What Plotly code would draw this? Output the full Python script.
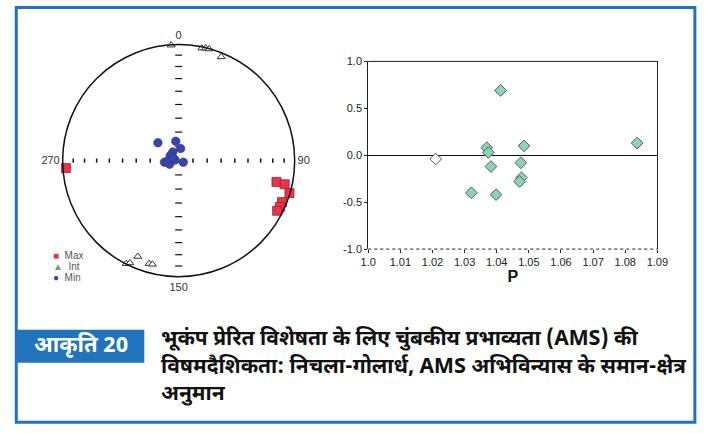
import numpy as np
import plotly.graph_objects as go

W, H = 719, 433

# Principal susceptibility axes (declination, inclination in degrees)
max_dec = [266.2, 102.3, 102.6, 106.4, 111.9, 114.6, 117.0]
max_inc = [2.9, 14.8, 7.1, 0.5, 4.5, 4.6, 5.3]
int_dec = [356.3, 11.6, 13.5, 15.3, 22.3, 207.0, 205.5, 203.1, 196.0, 194.2]
int_inc = [0.3, 1.2, 0.3, 0.3, 3.8, 0.3, 2.5, 11.1, 8.4, 8.6]
min_dec = [310.7, 351.5, 9.2, 326.3, 300.0, 263.5, 248.6, 280.0, 109.7, 268.0, 296.6]
min_inc = [70.8, 76.3, 81.5, 82.7, 83.2, 80.0, 83.2, 87.5, 86.6, 82.3, 85.5]

# Inclination graduations along the N-S / E-W diameters
tick_inc = [80, 70, 60, 50, 40, 30, 20, 10]

# Shape parameter T versus corrected anisotropy degree P
p_vals = [1.0321, 1.0369, 1.0374, 1.0382, 1.0398, 1.0412, 1.0475, 1.0485, 1.0477, 1.0471, 1.0837]
t_vals = [-0.40, 0.08, 0.03, -0.12, -0.42, 0.69, -0.08, 0.10, -0.24, -0.28, 0.13]
p_open = [1.0210]
t_open = [-0.04]

p_ticks = [1.0, 1.01, 1.02, 1.03, 1.04, 1.05, 1.06, 1.07, 1.08, 1.09]
p_ticktext = ["1.0", "1.01", "1.02", "1.03", "1.04", "1.05", "1.06", "1.07", "1.08", "1.09"]
t_ticks = [-1.0, -0.5, 0.0, 0.5, 1.0]
t_ticktext = ["-1.0", "-0.5", "0.0", "0.5", "1.0"]

dir_vals = [0, 90, 180, 270]
dir_text = ["0", "90", "150", "270"]

legend_names = ["Max", "Int", "Min"]
legend_glyphs = ["■", "▲", "●"]
legend_colors = ["#e8334a", "#6f9a78", "#3b44a8"]

caption_tag = "आकृति 20"
caption_lines = [
    "भूकंप प्रेरित विशेषता के लिए चुंबकीय प्रभाव्यता (AMS) की",
    "विषमदैशिकता: निचला-गोलार्ध, AMS अभिविन्यास के समान-क्षेत्र",
    "अनुमान",
]


def equal_area(inc):
    """Lower-hemisphere Schmidt radius (1 at the primitive circle)."""
    inc = np.asarray(inc, dtype=float)
    return np.sqrt(2.0) * np.sin(np.radians(90.0 - inc) / 2.0)


def px(x):
    return x / W


def py(y):
    return 1 - y / H


fig = go.Figure()

# graduation marks on the diameters
r_t = equal_area(tick_inc)
fig.add_trace(go.Scatterpolar(
    r=np.concatenate([r_t, r_t]), theta=[0] * len(r_t) + [180] * len(r_t),
    mode="markers", subplot="polar", showlegend=False, hoverinfo="skip",
    marker=dict(symbol="line-ew", size=5, line=dict(color="#111", width=1.2)),
))
fig.add_trace(go.Scatterpolar(
    r=np.concatenate([r_t, r_t]), theta=[90] * len(r_t) + [270] * len(r_t),
    mode="markers", subplot="polar", showlegend=False, hoverinfo="skip",
    marker=dict(symbol="line-ns", size=3, line=dict(color="#111", width=1.5)),
))

# susceptibility axes
fig.add_trace(go.Scatterpolar(
    r=equal_area(int_inc), theta=int_dec, mode="markers", subplot="polar",
    showlegend=False, cliponaxis=False,
    marker=dict(symbol="triangle-up", size=7, color="white",
                line=dict(color="#333", width=1)),
))
fig.add_trace(go.Scatterpolar(
    r=equal_area(max_inc), theta=max_dec, mode="markers", subplot="polar",
    showlegend=False, cliponaxis=False,
    marker=dict(symbol="square", size=9, color="#e8334a",
                line=dict(color="#9a1f2c", width=0.8)),
))
fig.add_trace(go.Scatterpolar(
    r=equal_area(min_inc), theta=min_dec, mode="markers", subplot="polar",
    showlegend=False, cliponaxis=False,
    marker=dict(symbol="circle", size=8.5, color="#3b44a8",
                line=dict(color="#2a3290", width=0.6)),
))

# T-P diagram
fig.add_trace(go.Scatter(
    x=p_open, y=t_open, mode="markers", showlegend=False,
    marker=dict(symbol="diamond", size=9, color="white",
                line=dict(color="#555", width=1)),
))
fig.add_trace(go.Scatter(
    x=p_vals, y=t_vals, mode="markers", showlegend=False,
    marker=dict(symbol="diamond", size=9, color="#8fd3b6",
                line=dict(color="#4f5f58", width=1)),
))

fig.update_layout(
    width=W, height=H,
    margin=dict(l=0, r=0, t=0, b=0),
    paper_bgcolor="white",
    plot_bgcolor="white",
    showlegend=False,
    font=dict(family="Liberation Sans, Arial, sans-serif", color="#222"),
    polar=dict(
        domain=dict(x=[px(56), px(294.6)], y=[py(278.3), py(39.7)]),
        bgcolor="white",
        radialaxis=dict(visible=False, range=[0, 1]),
        angularaxis=dict(
            direction="clockwise", rotation=90,
            tickmode="array", tickvals=dir_vals, ticktext=dir_text,
            ticks="", showgrid=False, showline=True,
            linecolor="#111", linewidth=1.5,
            tickfont=dict(size=11, color="#333"),
        ),
    ),
    xaxis=dict(
        domain=[px(370), px(667)], range=[1.0, 1.09],
        tickmode="array", tickvals=p_ticks, ticktext=p_ticktext,
        ticks="outside", ticklen=3, tickcolor="#222",
        showgrid=False, zeroline=False, showline=False,
        tickfont=dict(size=11, color="#222"),
        title=dict(text="<b>P</b>", font=dict(size=16, color="#111"), standoff=1),
    ),
    yaxis=dict(
        domain=[py(250), py(57)], range=[-1.0, 1.0],
        tickmode="array", tickvals=t_ticks, ticktext=t_ticktext,
        ticks="outside", ticklen=3, tickcolor="#222",
        showgrid=False, showline=True, mirror=True,
        linecolor="#222", linewidth=1,
        zeroline=True, zerolinecolor="#111", zerolinewidth=1,
        tickfont=dict(size=11, color="#222"),
    ),
)

# legend of the stereonet
for i, (name, glyph, col) in enumerate(zip(legend_names, legend_glyphs, legend_colors)):
    fig.add_annotation(
        x=px(45), y=py(256.5 + 11.3 * i), xref="paper", yref="paper",
        xanchor="left", yanchor="middle", showarrow=False,
        height=10, borderpad=0, valign="middle",
        text=f"<span style='color:{col}'>{glyph}</span>  {name}",
        font=dict(size=10, color="#555"),
    )

# frame of the T-P panel: solid top, dotted bottom
fig.add_shape(type="line", xref="x domain", yref="y domain",
              x0=0, x1=1, y0=1, y1=1, line=dict(color="#222", width=1))
fig.add_shape(type="line", xref="x domain", yref="y domain",
              x0=0, x1=1, y0=0, y1=0, line=dict(color="#222", width=1, dash="dot"))

# page border and caption block
fig.add_shape(type="rect", xref="paper", yref="paper", layer="below",
              x0=px(8.5), x1=px(705.5), y0=py(428), y1=py(1.5),
              line=dict(color="#1f74bd", width=3), fillcolor="rgba(0,0,0,0)")
fig.add_shape(type="rect", xref="paper", yref="paper", layer="below",
              x0=px(8.5), x1=px(140), y0=py(367), y1=py(333),
              line=dict(width=0), fillcolor="#1f74bd")

deva = "Noto Sans Devanagari, Lohit Devanagari, FreeSans, sans-serif"
fig.add_annotation(x=px(75), y=py(350), xref="paper", yref="paper",
                   xanchor="center", yanchor="middle",
                   text="<b>" + caption_tag + "</b>", showarrow=False,
                   font=dict(family=deva, size=22, color="white"))
for i, line in enumerate(caption_lines):
    fig.add_annotation(x=px(155), y=py(344 + 28 * i), xref="paper", yref="paper",
                       xanchor="left", yanchor="middle", text="<b>" + line + "</b>",
                       showarrow=False,
                       font=dict(family=deva, size=21, color="#111"))

fig.write_html("out.html")
